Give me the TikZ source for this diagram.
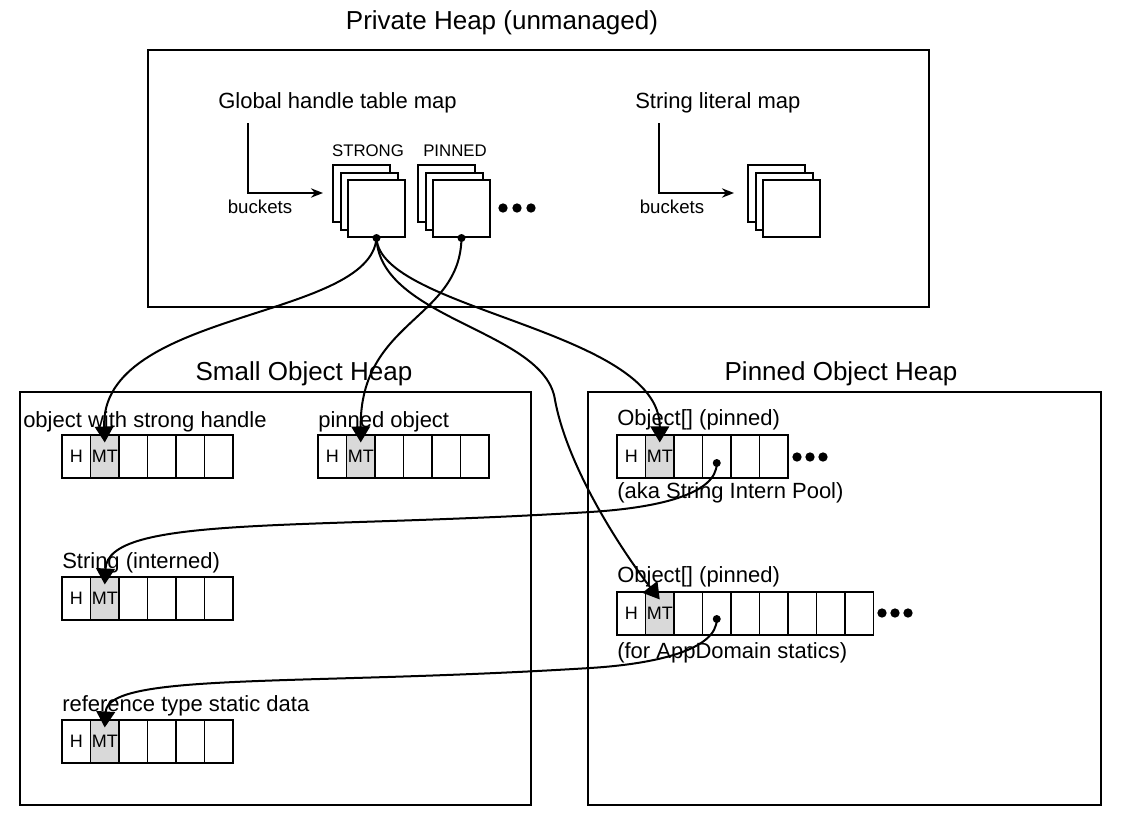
\documentclass[tikz,border=0pt]{standalone}
\usepackage{fontspec}
\setmainfont{Liberation Sans}
\usetikzlibrary{arrows.meta}
\definecolor{mtgray}{HTML}{D9D9D9}
\newcommand\objrow[4]{%
  \node[cell] (#1-1) at ({#2+14.25},{#3+21.5}) {H};
  \node[mtcell] (#1-2) at ({#2+42.75},{#3+21.5}) {MT};
  \foreach \i in {3,...,#4}{\node[cell] (#1-\i) at ({#2+(\i-0.5)*28.5},{#3+21.5}) {};}
}
\begin{document}
\begin{tikzpicture}[x=0.75pt,y=-0.75pt,
  heap/.style={draw, line width=1.2pt},
  cell/.style={draw, line width=0.8pt, minimum width=21.375pt, minimum height=32.25pt, inner sep=0pt, font=\fontsize{13.5}{15}\selectfont},
  mtcell/.style={cell, fill=mtgray},
  sq/.style={draw, fill=white, line width=1.5pt, minimum size=42.75pt, inner sep=0pt, anchor=north west},
  title/.style={font=\fontsize{19.5}{23}\selectfont, inner sep=0pt},
  lbl/.style={font=\fontsize{16.5}{20}\selectfont, anchor=west, inner sep=0pt},
  small/.style={font=\fontsize{14}{16}\selectfont, inner sep=0pt},
  tiny/.style={font=\fontsize{12.6}{15}\selectfont, inner sep=0pt},
  dotc/.style={circle, fill=black, inner sep=0pt, minimum size=6pt},
  ell/.style={circle, fill=black, inner sep=0pt, minimum size=7pt},
  conn/.style={line width=1.5pt, -{Triangle[length=12pt, width=14pt]}},
  bk/.style={line width=1.4pt, -{Stealth[length=9pt, width=7pt]}}
]
\useasboundingbox (0,0) rectangle (1121,821);
\fill[white] (0,0) rectangle (1121,821);

% Private heap
\node[title] (ph) at (502,23) {Private Heap (unmanaged)};
\draw[heap] (148,50) rectangle (929,307);
\node[lbl] (ght) at (218,103) {Global handle table map};
\node[lbl] (slm) at (635,103) {String literal map};

\coordinate (gh0) at (248,123);
\coordinate (gh1) at (323,193);
\draw[bk] (gh0) |- (gh1);
\node[small] (bk1) at (260,207) {buckets};
\coordinate (sl0) at (659,123);
\coordinate (sl1) at (734,193);
\draw[bk] (sl0) |- (sl1);
\node[small] (bk2) at (672,207) {buckets};

\node[tiny] (strong) at (368,151) {STRONG};
\node[tiny] (pinned) at (455,151) {PINNED};
\node[sq] (s1) at (332,164) {};
\node[sq] (s2) at (339.5,171.5) {};
\node[sq] (s3) at (347,179) {};
\node[sq] (p1) at (417,164) {};
\node[sq] (p2) at (424.5,171.5) {};
\node[sq] (p3) at (432,179) {};
\node[sq] (l1) at (747,164) {};
\node[sq] (l2) at (754.5,171.5) {};
\node[sq] (l3) at (762,179) {};
\node[ell] (e1) at (503,208) {};
\node[ell] (e2) at (517,208) {};
\node[ell] (e3) at (531,208) {};
\node[dotc] (sd) at (s3.south) {};
\node[dotc] (pd) at (p3.south) {};

% Small object heap
\node[title] (soh) at (304,374) {Small Object Heap};
\draw[heap] (20,392) rectangle (531,805);
\node[lbl] (la) at (23,422) {object with strong handle};
\objrow{A}{62}{435}{6}
\node[lbl] (lb) at (318,422) {pinned object};
\objrow{B}{318}{435}{6}
\node[lbl] (ld) at (62,563) {String (interned)};
\objrow{D}{62}{577}{6}
\node[lbl] (lf) at (62,706) {reference type static data};
\objrow{F}{62}{720}{6}

% Pinned object heap
\node[title] (poh) at (841,374) {Pinned Object Heap};
\draw[heap] (588,392) rectangle (1101,805);
\node[lbl] (lc) at (617,420) {Object[] (pinned)};
\objrow{C}{617}{435}{6}
\node[lbl] (lc2) at (617,493) {(aka String Intern Pool)};
\node[ell] (c1) at (797,457) {};
\node[ell] (c2) at (810,457) {};
\node[ell] (c3) at (823,457) {};
\node[lbl] (le) at (617,577) {Object[] (pinned)};
\objrow{E}{617}{592}{9}
\node[lbl] (le2) at (617,653) {(for AppDomain statics)};
\node[ell] (f1) at (882,613) {};
\node[ell] (f2) at (895,613) {};
\node[ell] (f3) at (908,613) {};
\node[dotc] (cd) at (716.75,463) {};
\node[dotc] (ed) at (716.75,619) {};

% connectors
\draw[conn] (sd.center) .. controls (370,320) and (100,310) .. ([yshift=-6pt]A-2.north);
\draw[conn] (pd.center) .. controls (460,320) and (360,320) .. ([yshift=-6pt]B-2.north);
\draw[conn] (sd.center) .. controls (380,310) and (660,330) .. ([yshift=-6pt]C-2.north);
\draw[conn] (sd.center) .. controls (380,320) and (545,330) .. (555,400) .. controls (568,470) and (625,555) .. ([yshift=-6pt]E-2.north);
\draw[conn] (cd.center) .. controls (717,495) and (655,508) .. (590,512) .. controls (300,530) and (108,515) .. ([yshift=-6pt]D-2.north);
\draw[conn] (ed.center) .. controls (717,650) and (655,664) .. (590,668) .. controls (300,686) and (108,672) .. ([yshift=-6pt]F-2.north);
\end{tikzpicture}
\end{document}
